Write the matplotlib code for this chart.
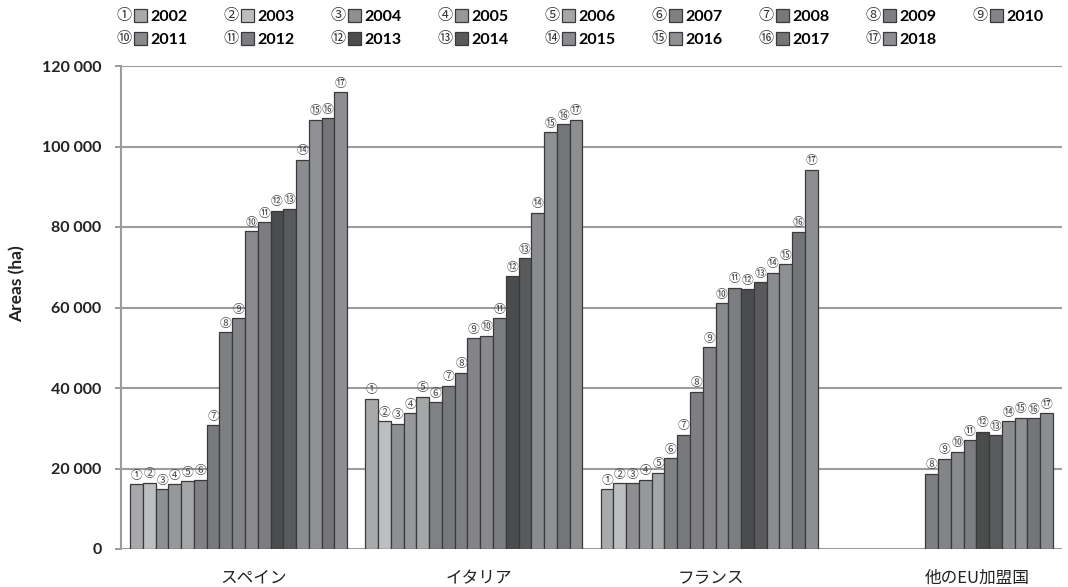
import matplotlib
matplotlib.use("Agg")
import matplotlib.pyplot as plt
from matplotlib.legend_handler import HandlerBase
from matplotlib.patches import Rectangle
from matplotlib.text import Text
from matplotlib.ticker import FuncFormatter

# ---------------- data ----------------
countries = ["スペイン", "イタリア", "フランス", "他のEU加盟国"]
years = ["2002", "2003", "2004", "2005", "2006", "2007", "2008", "2009", "2010",
         "2011", "2012", "2013", "2014", "2015", "2016", "2017", "2018"]
numbers = ["①", "②", "③", "④", "⑤", "⑥", "⑦", "⑧", "⑨", "⑩",
           "⑪", "⑫", "⑬", "⑭", "⑮", "⑯", "⑰"]

spain = [16100, 16500, 14900, 16100, 16800, 17200, 30800, 53800, 57400, 78900,
         81200, 84000, 84500, 96700, 106700, 107100, 113500]
italy = [37300, 31700, 31100, 33800, 37800, 36500, 40600, 43800, 52300, 53000,
         57400, 67800, 72300, 83600, 103500, 105500, 106700]
france = [14900, 16300, 16300, 17200, 19000, 22500, 28400, 39100, 50200, 61000,
          64900, 64600, 66300, 68600, 70800, 78800, 94200]
other_eu = [None, None, None, None, None, None, None, 18700, 22400, 24200,
            27000, 29100, 28300, 31800, 32600, 32500, 33700]

year_colors = ["#a8a9ab", "#bdbec0", "#8e8f92", "#97989b", "#a5a6a8", "#808184",
               "#78797c", "#7e7f82", "#838487", "#898a8d", "#7c7d80", "#4b4c4e",
               "#595a5c", "#8b8c8f", "#8f9093", "#747578", "#8d8e91"]

yticks = [0, 20000, 40000, 60000, 80000, 100000, 120000]
ylabel = "Areas (ha)"

# ---------------- style ----------------
CJK = ["Noto Sans CJK JP", "DejaVu Sans"]
NUM = ["Lato", "DejaVu Sans"]
grid_c = "#9c9c9c"
edge_c = "#3a3a3a"

fig = plt.figure(figsize=(10.68, 5.87), dpi=100)
ax = fig.add_axes([121 / 1068, 1 - 549 / 587, (1062 - 121) / 1068, (549 - 66) / 587])

series = [spain, italy, france, other_eu]
n = len(years)
group_w = 0.922
w = group_w / n

for ci, vals in enumerate(series):
    for yi, v in enumerate(vals):
        if v is None:
            continue
        x = ci + (yi - (n - 1) / 2) * w
        ax.bar(x, v, width=w, color=year_colors[yi], edgecolor=edge_c,
               linewidth=0.9, zorder=3)
        ax.text(x, v + 600, numbers[yi], ha="center", va="bottom",
                fontsize=8.5, color="#444444", family=CJK, zorder=4)

ax.set_xlim(-0.5, len(countries) - 0.5)
ax.set_ylim(0, 120000)
ax.set_yticks(yticks)
ax.yaxis.set_major_formatter(FuncFormatter(lambda v, p: f"{int(v):,}".replace(",", " ")))
for lab in ax.get_yticklabels():
    lab.set_fontfamily(NUM)
    lab.set_fontweight("bold")
    lab.set_fontsize(11.5)
    lab.set_color("#222222")
ax.tick_params(axis="y", length=4, width=1.4, color=grid_c, pad=10)
ax.grid(axis="y", color=grid_c, linewidth=1.5, zorder=0)
ax.set_axisbelow(True)
for s in ["top", "right", "bottom"]:
    ax.spines[s].set_visible(False)
ax.spines["left"].set_color(grid_c)
ax.spines["left"].set_linewidth(1.5)

label_pos = [0.065, 1.022, 2.008, 3.139]
ax.set_xticks(label_pos)
ax.set_xticklabels(countries, family=CJK, fontsize=12, color="#222222")
ax.tick_params(axis="x", length=0, pad=15)

ax.set_ylabel(ylabel, family=NUM, fontweight="bold", fontsize=12.5, color="#222222")
ax.yaxis.set_label_coords(-96 / 941, 0.55)


# ---------------- legend ----------------
class NumberedBoxHandler(HandlerBase):
    def __init__(self, num):
        super().__init__()
        self.num = num

    def create_artists(self, legend, orig_handle, xdescent, ydescent, width,
                       height, fontsize, trans):
        box = 0.8 * fontsize
        t = Text(-xdescent - 1, -ydescent + height / 2, self.num, ha="left",
                 va="center", fontsize=fontsize * 0.95, family=CJK,
                 color="#333333", transform=trans)
        r = Rectangle((-xdescent + width - box, -ydescent + height / 2 - box / 2),
                      box, box, facecolor=orig_handle.get_facecolor(),
                      edgecolor=edge_c, linewidth=0.9, transform=trans)
        return [t, r]


handles = [Rectangle((0, 0), 1, 1, facecolor=c) for c in year_colors]
handler_map = {h: NumberedBoxHandler(numbers[i]) for i, h in enumerate(handles)}
ncol = 9
order = []
for j in range(ncol):
    order.append(j)
    if j + ncol < n:
        order.append(j + ncol)
leg = fig.legend([handles[i] for i in order], [years[i] for i in order],
                 loc="upper left", ncol=ncol,
                 bbox_to_anchor=(118 / 1068, 1 - 10 / 587), frameon=False,
                 handler_map=handler_map, handlelength=1.8, handletextpad=0.22,
                 columnspacing=2.35, labelspacing=0.55, borderpad=0,
                 borderaxespad=0,
                 prop={"family": NUM, "weight": "bold", "size": 11.5})

fig.savefig("out.png", dpi=100)
